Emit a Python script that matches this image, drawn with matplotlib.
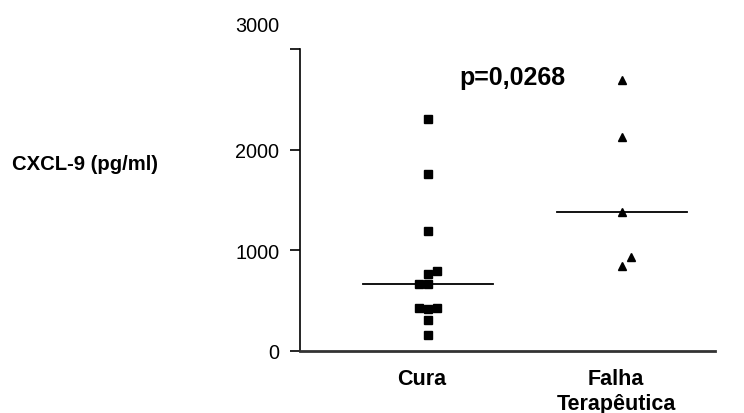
import matplotlib
matplotlib.use('Agg')
import matplotlib.pyplot as plt
import matplotlib.transforms as mtransforms
import numpy as np

plt.rcParams['font.family'] = ['Liberation Sans', 'DejaVu Sans']

groups = ['Cura', 'Falha\nTerapêutica']
cura = [2300, 1757, 1193, 767, 790, 667, 667, 427, 417, 427, 307, 163]
cura_jitter = [0, 0, 0, 0, 0.046, -0.046, 0, -0.046, 0, 0.046, 0, 0]
falha = [2693, 2130, 1377, 937, 847]
falha_jitter = [0, 0, 0, 0.046, 0]
p_text = 'p=0,0268'
ylabel = 'CXCL-9 (pg/ml)'
yticks = [0, 1000, 2000, 3000]

fig = plt.figure(figsize=(7.44, 4.14), dpi=100)
ax = fig.add_axes([300 / 744, 1 - 352 / 414, 415 / 744, 302 / 414])

ax.plot(1 + np.array(cura_jitter), cura, 's', color='black', ms=5.6, ls='none')
ax.plot(2 + np.array(falha_jitter), falha, '^', color='black', ms=5.4, ls='none')

for xc, vals in [(1, cura), (2, falha)]:
    med = np.median(vals)
    ax.plot([xc - 0.335, xc + 0.335], [med, med], color='black', lw=1.3)

ax.set_xlim(1 - 128 / 194, 2 + 93 / 194)
ax.set_ylim(0, 3000)
ax.set_yticks(yticks)
ax.set_yticklabels([str(t) for t in yticks], fontsize=14.3)
ax.tick_params(axis='y', length=7, width=1.2, pad=8, direction='out')
ax.set_xticks([1, 2])
ax.set_xticklabels(groups, fontsize=15.5, fontweight='bold', linespacing=1.3)
ax.tick_params(axis='x', length=0, pad=12)

# labels in the reference sit a little left of the points
shift = mtransforms.ScaledTranslation(-6 / 100, 0, fig.dpi_scale_trans)
for lab in ax.get_xticklabels():
    lab.set_transform(lab.get_transform() + shift)

# the top label sits above its tick in the reference
top = ax.get_yticklabels()[-1]
top.set_transform(top.get_transform() + mtransforms.ScaledTranslation(0, 18 / 72, fig.dpi_scale_trans))

ax.spines['top'].set_visible(False)
ax.spines['right'].set_visible(False)
ax.spines['left'].set_linewidth(1.2)
ax.spines['bottom'].set_linewidth(2)
ax.spines['bottom'].set_color('#333333')

ax.text(1.433, 2720, p_text, fontsize=18, fontweight='bold', ha='center', va='center')
fig.text(12 / 744, 1 - 165 / 414, ylabel, fontsize=14.6, fontweight='bold', ha='left', va='center')

fig.savefig('out.png', dpi=100)
